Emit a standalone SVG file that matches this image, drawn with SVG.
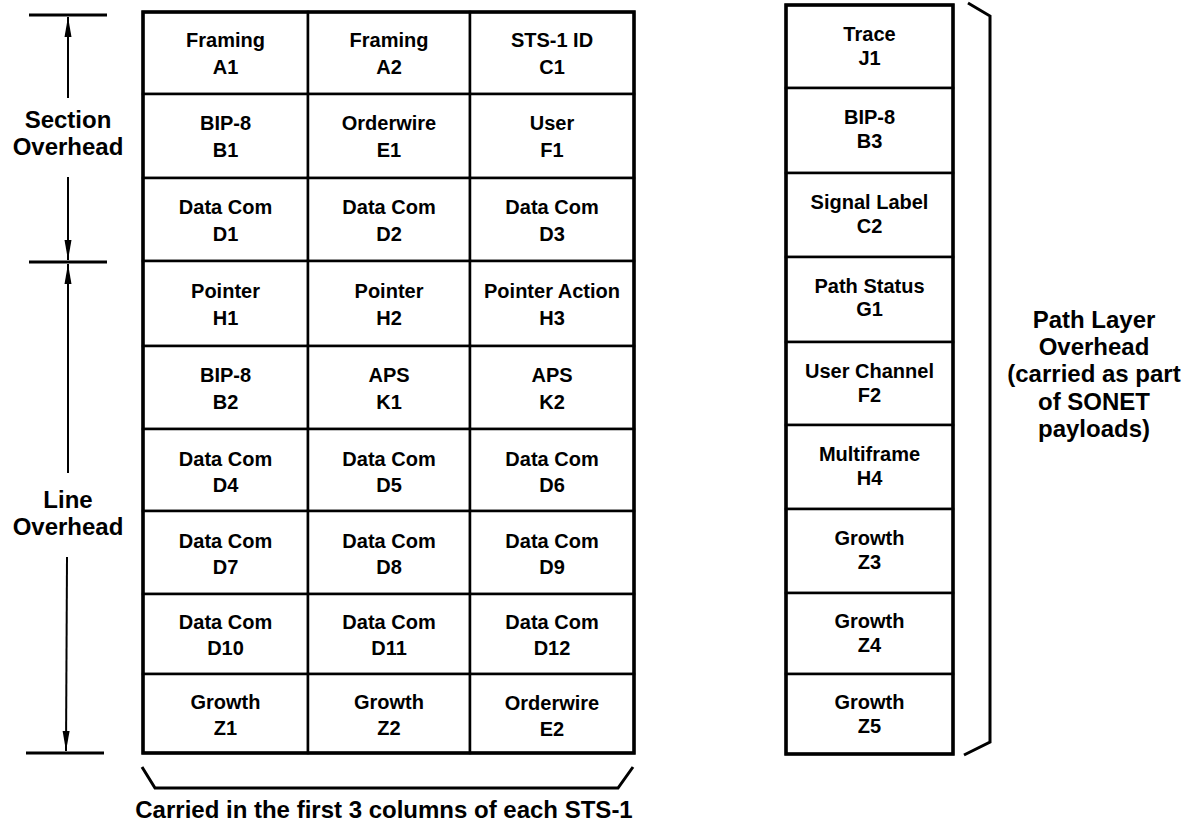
<svg xmlns="http://www.w3.org/2000/svg" width="1189" height="825" viewBox="0 0 1189 825">
<style>
.bg{fill:#fff}
.cell{fill:#fff;stroke:#000;stroke-width:2.5}
.t{font-family:"Liberation Sans",Arial,Helvetica,sans-serif;font-weight:bold;font-size:20px;fill:#000;text-anchor:middle}
.big{font-family:"Liberation Sans",Arial,Helvetica,sans-serif;font-weight:bold;font-size:24px;fill:#000;text-anchor:middle}
.ln{stroke:#000;stroke-width:2;fill:none}
.tick{stroke:#000;stroke-width:3;fill:none}
.brace{stroke:#000;stroke-width:3;fill:none;stroke-linejoin:miter}
.outer{fill:none;stroke:#000;stroke-width:3.5}
</style>
<defs>
<marker id="ah" viewBox="0 0 20 8" refX="20" refY="4" markerWidth="20" markerHeight="8" markerUnits="userSpaceOnUse" orient="auto">
<path d="M0,0.5 L20,4 L0,7.5 Z" fill="#000"/>
</marker>
</defs>
<rect class="bg" x="0" y="0" width="1189" height="825"/>

<!-- Left grid (STS-1 transport overhead) -->
<g id="A1"><rect class="cell" x="143" y="12" width="165" height="82"/><text class="t" x="225.5" y="47">Framing</text><text class="t" x="225.5" y="74">A1</text></g>
<g id="A2"><rect class="cell" x="308" y="12" width="162" height="82"/><text class="t" x="389" y="47">Framing</text><text class="t" x="389" y="74">A2</text></g>
<g id="C1"><rect class="cell" x="470" y="12" width="164" height="82"/><text class="t" x="552" y="47">STS-1 ID</text><text class="t" x="552" y="74">C1</text></g>

<g id="B1"><rect class="cell" x="143" y="94" width="165" height="84"/><text class="t" x="225.5" y="130">BIP-8</text><text class="t" x="225.5" y="157">B1</text></g>
<g id="E1"><rect class="cell" x="308" y="94" width="162" height="84"/><text class="t" x="389" y="130">Orderwire</text><text class="t" x="389" y="157">E1</text></g>
<g id="F1"><rect class="cell" x="470" y="94" width="164" height="84"/><text class="t" x="552" y="130">User</text><text class="t" x="552" y="157">F1</text></g>

<g id="D1"><rect class="cell" x="143" y="178" width="165" height="83"/><text class="t" x="225.5" y="214">Data Com</text><text class="t" x="225.5" y="241">D1</text></g>
<g id="D2"><rect class="cell" x="308" y="178" width="162" height="83"/><text class="t" x="389" y="214">Data Com</text><text class="t" x="389" y="241">D2</text></g>
<g id="D3"><rect class="cell" x="470" y="178" width="164" height="83"/><text class="t" x="552" y="214">Data Com</text><text class="t" x="552" y="241">D3</text></g>

<g id="H1"><rect class="cell" x="143" y="261" width="165" height="85"/><text class="t" x="225.5" y="298">Pointer</text><text class="t" x="225.5" y="325">H1</text></g>
<g id="H2"><rect class="cell" x="308" y="261" width="162" height="85"/><text class="t" x="389" y="298">Pointer</text><text class="t" x="389" y="325">H2</text></g>
<g id="H3"><rect class="cell" x="470" y="261" width="164" height="85"/><text class="t" x="552" y="298">Pointer Action</text><text class="t" x="552" y="325">H3</text></g>

<g id="B2"><rect class="cell" x="143" y="346" width="165" height="83"/><text class="t" x="225.5" y="382">BIP-8</text><text class="t" x="225.5" y="409">B2</text></g>
<g id="K1"><rect class="cell" x="308" y="346" width="162" height="83"/><text class="t" x="389" y="382">APS</text><text class="t" x="389" y="409">K1</text></g>
<g id="K2"><rect class="cell" x="470" y="346" width="164" height="83"/><text class="t" x="552" y="382">APS</text><text class="t" x="552" y="409">K2</text></g>

<g id="D4"><rect class="cell" x="143" y="429" width="165" height="82"/><text class="t" x="225.5" y="466">Data Com</text><text class="t" x="225.5" y="492">D4</text></g>
<g id="D5"><rect class="cell" x="308" y="429" width="162" height="82"/><text class="t" x="389" y="466">Data Com</text><text class="t" x="389" y="492">D5</text></g>
<g id="D6"><rect class="cell" x="470" y="429" width="164" height="82"/><text class="t" x="552" y="466">Data Com</text><text class="t" x="552" y="492">D6</text></g>

<g id="D7"><rect class="cell" x="143" y="511" width="165" height="83"/><text class="t" x="225.5" y="548">Data Com</text><text class="t" x="225.5" y="574">D7</text></g>
<g id="D8"><rect class="cell" x="308" y="511" width="162" height="83"/><text class="t" x="389" y="548">Data Com</text><text class="t" x="389" y="574">D8</text></g>
<g id="D9"><rect class="cell" x="470" y="511" width="164" height="83"/><text class="t" x="552" y="548">Data Com</text><text class="t" x="552" y="574">D9</text></g>

<g id="D10"><rect class="cell" x="143" y="594" width="165" height="80"/><text class="t" x="225.5" y="629">Data Com</text><text class="t" x="225.5" y="655">D10</text></g>
<g id="D11"><rect class="cell" x="308" y="594" width="162" height="80"/><text class="t" x="389" y="629">Data Com</text><text class="t" x="389" y="655">D11</text></g>
<g id="D12"><rect class="cell" x="470" y="594" width="164" height="80"/><text class="t" x="552" y="629">Data Com</text><text class="t" x="552" y="655">D12</text></g>

<g id="Z1"><rect class="cell" x="143" y="674" width="165" height="79"/><text class="t" x="225.5" y="709">Growth</text><text class="t" x="225.5" y="735">Z1</text></g>
<g id="Z2"><rect class="cell" x="308" y="674" width="162" height="79"/><text class="t" x="389" y="709">Growth</text><text class="t" x="389" y="735">Z2</text></g>
<g id="E2"><rect class="cell" x="470" y="674" width="164" height="79"/><text class="t" x="552" y="710">Orderwire</text><text class="t" x="552" y="736">E2</text></g>

<rect class="outer" x="143" y="12" width="491" height="741"/>

<!-- Right column (path overhead) -->
<g id="J1"><rect class="cell" x="786" y="5" width="167" height="83"/><text class="t" x="869.5" y="41">Trace</text><text class="t" x="869.5" y="65">J1</text></g>
<g id="B3"><rect class="cell" x="786" y="88" width="167" height="85"/><text class="t" x="869.5" y="124">BIP-8</text><text class="t" x="869.5" y="148">B3</text></g>
<g id="C2"><rect class="cell" x="786" y="173" width="167" height="84"/><text class="t" x="869.5" y="209">Signal Label</text><text class="t" x="869.5" y="233">C2</text></g>
<g id="G1"><rect class="cell" x="786" y="257" width="167" height="85"/><text class="t" x="869.5" y="293">Path Status</text><text class="t" x="869.5" y="316">G1</text></g>
<g id="F2"><rect class="cell" x="786" y="342" width="167" height="83"/><text class="t" x="869.5" y="378">User Channel</text><text class="t" x="869.5" y="402">F2</text></g>
<g id="H4"><rect class="cell" x="786" y="425" width="167" height="84"/><text class="t" x="869.5" y="461">Multiframe</text><text class="t" x="869.5" y="485">H4</text></g>
<g id="Z3"><rect class="cell" x="786" y="509" width="167" height="84"/><text class="t" x="869.5" y="545">Growth</text><text class="t" x="869.5" y="569">Z3</text></g>
<g id="Z4"><rect class="cell" x="786" y="593" width="167" height="81"/><text class="t" x="869.5" y="628">Growth</text><text class="t" x="869.5" y="652">Z4</text></g>
<g id="Z5"><rect class="cell" x="786" y="674" width="167" height="80"/><text class="t" x="869.5" y="709">Growth</text><text class="t" x="869.5" y="733">Z5</text></g>
<rect class="outer" x="786" y="5" width="167" height="749"/>

<!-- Labels -->
<g id="section-label"><text class="big" x="68" y="128">Section</text><text class="big" x="68" y="155">Overhead</text></g>
<g id="line-label"><text class="big" x="68" y="508">Line</text><text class="big" x="68" y="535">Overhead</text></g>
<g id="path-label">
<text class="big" x="1094" y="328">Path Layer</text>
<text class="big" x="1094" y="355">Overhead</text>
<text class="big" x="1094" y="382">(carried as part</text>
<text class="big" x="1094" y="410">of SONET</text>
<text class="big" x="1094" y="437">payloads)</text>
</g>
<g id="columns-label"><text class="big" x="384" y="818">Carried in the first 3 columns of each STS-1</text></g>

<!-- Connectors: dimension ticks, arrows, braces -->
<g id="connectors">
<line class="tick" x1="29" y1="15" x2="107" y2="15"/>
<line class="tick" x1="29" y1="262" x2="107" y2="262"/>
<line class="tick" x1="26" y1="753" x2="104" y2="753"/>
<line class="ln" x1="68" y1="98" x2="68" y2="17" marker-end="url(#ah)"/>
<line class="ln" x1="68" y1="177" x2="68" y2="260" marker-end="url(#ah)"/>
<line class="ln" x1="68" y1="473" x2="68" y2="264" marker-end="url(#ah)"/>
<line class="ln" x1="67" y1="557" x2="66" y2="751" marker-end="url(#ah)"/>
<polyline class="brace" points="142,767 155,788 618,788 633,767"/>
<polyline class="brace" points="968,3 990,16 990,742 964,755"/>
</g>
</svg>
